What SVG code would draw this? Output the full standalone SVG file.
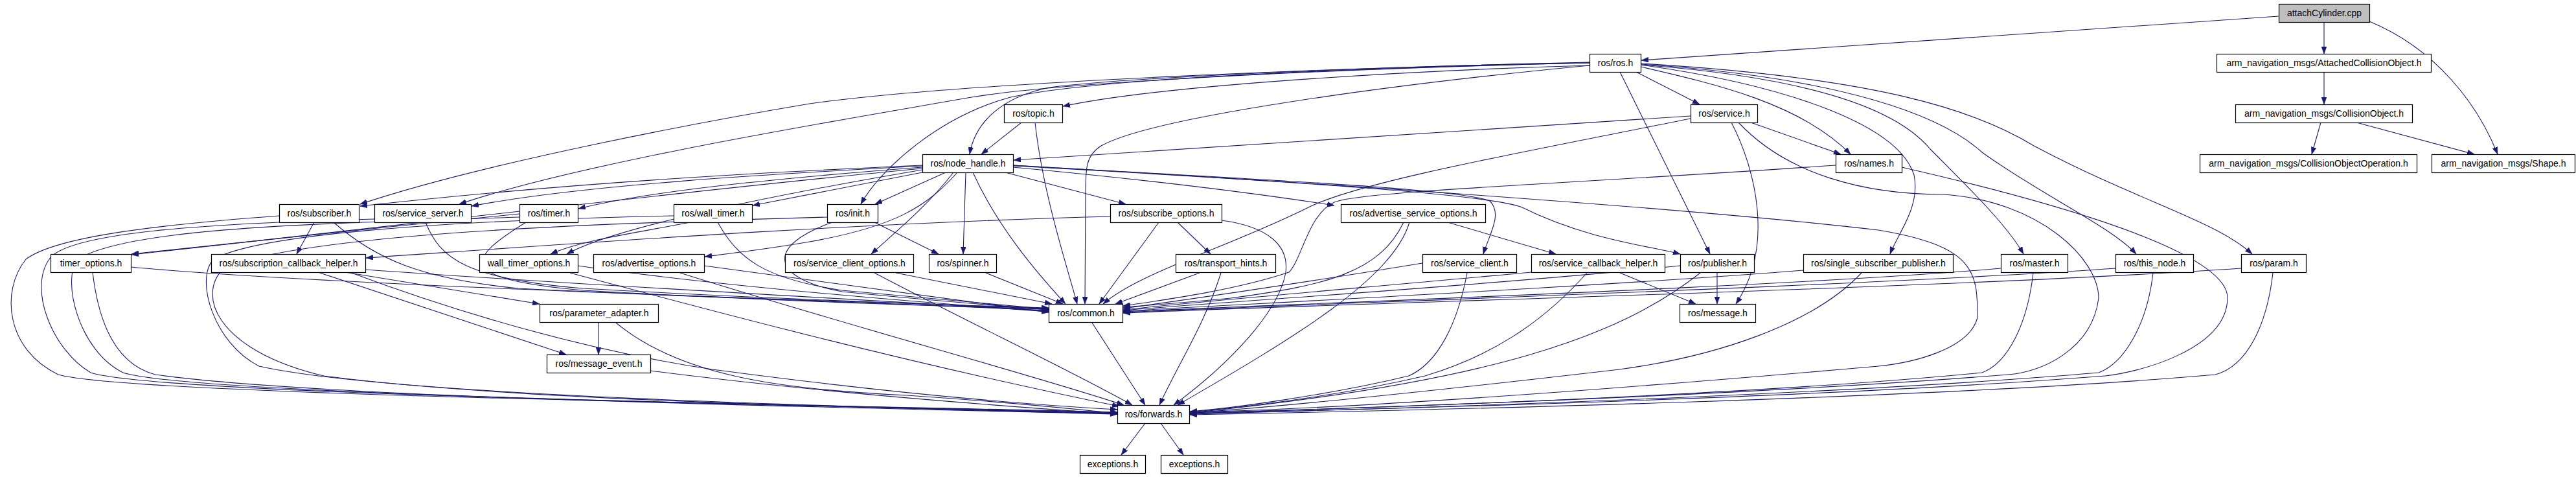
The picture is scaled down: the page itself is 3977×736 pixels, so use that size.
<svg xmlns="http://www.w3.org/2000/svg" width="3977" height="736" viewBox="0 0 3977 736">
<style>
.n rect{fill:#fff;stroke:#000;stroke-width:1.2}
.n text{font-family:"Liberation Sans",Arial,sans-serif;font-size:14px;text-anchor:middle;fill:#000}
.e path{fill:none;stroke:#191970;stroke-width:1.1;marker-end:url(#ah)}
</style>
<defs>
<marker id="ah" viewBox="0 0 11 8" refX="11" refY="4" markerWidth="11" markerHeight="8" markerUnits="userSpaceOnUse" orient="auto">
<path d="M0,0 L11,4 L0,8 z" fill="#191970" stroke="#191970" stroke-width="0.5"/>
</marker>
</defs>
<rect width="3977" height="736" fill="#fff"/>
<g id="edges" class="e">
<path d="M3518,25 L2534,93"/>
<path d="M3588,34 L3588,83"/>
<path d="M3658,33 C3760,75 3825,160 3856,238"/>
<path d="M3588,111 L3588,161"/>
<path d="M3583,189 L3569,238"/>
<path d="M3638,189 L3820,238"/>
<path d="M2454,97 C2200,100 1750,118 1620,135 C1545,150 1505,190 1497,238"/>
<path d="M2454,101 C2200,108 1800,130 1641,164"/>
<path d="M2454,96 C2100,104 1500,125 1250,160 C1100,185 750,250 556,315"/>
<path d="M2454,97 C2100,105 1650,125 1500,150 C1300,185 900,250 709,315"/>
<path d="M2454,97 C2100,105 1700,120 1560,150 C1450,180 1360,260 1329,315"/>
<path d="M2454,101 C2150,130 1780,180 1700,225 C1676,240 1676,260 1676,300 L1675,469"/>
<path d="M2526,111 L2624,161"/>
<path d="M2533,103 C2650,130 2780,160 2857,238"/>
<path d="M2501,111 L2640,392"/>
<path d="M2533,100 C2750,130 2930,190 2955,270 C2965,320 2930,360 2918,392"/>
<path d="M2533,100 C2800,120 2930,170 2980,230 C3050,300 3100,350 3124,392"/>
<path d="M2533,99 C2850,120 3000,180 3060,235 C3150,300 3260,350 3298,392"/>
<path d="M2533,98 C2900,120 3050,170 3140,225 C3300,310 3420,340 3477,392"/>
<path d="M1577,189 L1515,238"/>
<path d="M1598,189 C1610,300 1650,420 1663,469"/>
<path d="M2610,179 L1565,247"/>
<path d="M2703,189 L2842,238"/>
<path d="M2610,183 C2350,235 2100,280 2020,320 C1900,380 1760,420 1703,469"/>
<path d="M2673,189 C2710,260 2740,380 2680,469"/>
<path d="M2684,189 C2760,270 2880,300 3000,300 C3150,310 3240,400 3240,460 C3230,540 3150,575 3100,578 C2700,610 2100,630 1837,637"/>
<path d="M2834,255 C2400,285 2100,295 2060,312 C2020,330 2010,400 1990,420 C1900,450 1780,465 1734,472"/>
<path d="M2936,258 C3250,330 3440,400 3439,460 C3438,540 3300,575 3250,580 C2800,615 2100,632 1837,638"/>
<path d="M1564,255 C2000,280 2600,320 2900,355 C3050,380 3053,420 3053,490 C3040,540 2950,560 2900,565 C2500,600 2100,630 1837,636"/>
<path d="M1564,256 C2000,280 2300,300 2350,320 C2450,370 2550,380 2594,392"/>
<path d="M1424,255 C1200,265 900,280 556,318"/>
<path d="M1424,256 C1200,268 900,285 728,318"/>
<path d="M1564,255 C1900,275 2250,290 2300,310 C2320,330 2300,360 2290,392"/>
<path d="M1424,258 C1200,275 1000,295 893,322"/>
<path d="M1424,266 L1162,317"/>
<path d="M1478,266 C1430,320 1380,350 1250,373 C1180,385 1120,392 1088,396"/>
<path d="M1564,258 C1800,280 1950,300 2060,317"/>
<path d="M1552,266 L1738,315"/>
<path d="M1472,266 C1430,320 1380,360 1345,392"/>
<path d="M1424,260 C1100,290 600,350 203,393"/>
<path d="M1424,262 C1200,300 950,350 875,392"/>
<path d="M1491,266 L1487,392"/>
<path d="M1460,266 L1351,315"/>
<path d="M1502,266 C1540,350 1600,420 1645,469"/>
<path d="M515,343 C580,400 650,430 800,445 C1100,460 1450,470 1619,475"/>
<path d="M431,333 C200,350 80,370 40,400 C0,450 10,540 90,578 C200,610 1300,625 1725,636"/>
<path d="M485,343 L458,392"/>
<path d="M657,343 C680,400 720,430 900,445 C1200,462 1450,470 1619,476"/>
<path d="M578,338 C300,345 120,360 80,395 C40,440 80,540 140,575 C250,610 1300,625 1725,637"/>
<path d="M812,343 C720,400 700,430 900,448 C1200,465 1450,472 1619,477"/>
<path d="M802,335 C500,345 200,350 120,400 C95,430 120,540 190,575 C300,610 1300,626 1725,638"/>
<path d="M802,330 C600,350 350,375 203,392"/>
<path d="M1108,343 C1140,400 1180,430 1300,448 C1450,462 1550,470 1619,477"/>
<path d="M1040,333 C700,340 400,360 330,400 C300,430 330,530 400,565 C600,610 1300,628 1725,638"/>
<path d="M1065,343 C980,360 900,370 850,392"/>
<path d="M1277,335 C900,345 500,360 350,410 C300,450 330,540 500,580 C800,620 1400,630 1725,638"/>
<path d="M1350,343 L1449,392"/>
<path d="M1285,343 C1180,380 1190,430 1300,450 C1450,465 1550,472 1619,478"/>
<path d="M1789,343 L1697,469"/>
<path d="M1818,343 L1869,392"/>
<path d="M1714,334 C1300,345 900,375 565,398"/>
<path d="M1886,340 C1960,350 1990,380 1985,420 C1975,480 1900,560 1812,625"/>
<path d="M2167,343 C2130,420 2050,440 1900,460 C1820,468 1760,472 1734,474"/>
<path d="M2235,343 L2402,392"/>
<path d="M2176,343 C2150,430 2000,520 1818,625"/>
<path d="M2196,406 C2050,430 1850,460 1734,476"/>
<path d="M2265,421 C2250,500 2220,560 2175,580 C2050,610 1900,630 1837,635"/>
<path d="M2364,420 C2150,440 1850,465 1734,478"/>
<path d="M2450,421 C2380,500 2300,550 2200,580 C2050,615 1900,630 1837,636"/>
<path d="M2501,421 L2618,469"/>
<path d="M2625,421 C2500,520 2300,590 1837,637"/>
<path d="M2594,410 C2300,440 1900,465 1734,479"/>
<path d="M2651,421 L2651,469"/>
<path d="M2874,421 C2800,500 2650,550 2500,570 C2200,605 1950,630 1837,637"/>
<path d="M2784,417 C2500,440 2000,465 1734,480"/>
<path d="M3139,421 C3130,500 3100,560 3060,575 C2700,610 2100,630 1837,638"/>
<path d="M3089,414 C2800,440 2100,465 1734,481"/>
<path d="M3324,421 C3315,500 3280,560 3240,575 C2800,612 2100,632 1837,639"/>
<path d="M3266,414 C2900,440 2100,466 1734,482"/>
<path d="M3509,421 C3500,500 3470,565 3420,578 C3000,615 2200,633 1837,640"/>
<path d="M3460,414 C3000,445 2100,467 1734,483"/>
<path d="M202,412 C500,440 1200,460 1619,479"/>
<path d="M143,420 C150,480 170,560 240,578 C500,615 1300,628 1725,639"/>
<path d="M564,416 C900,440 1300,460 1619,480"/>
<path d="M540,420 C700,480 900,540 1100,570 C1400,610 1600,625 1725,632"/>
<path d="M533,420 L833,469"/>
<path d="M491,420 L874,547"/>
<path d="M892,410 C1100,440 1400,465 1619,481"/>
<path d="M880,421 C1100,480 1400,560 1728,627"/>
<path d="M1087,410 C1300,440 1500,465 1619,482"/>
<path d="M1050,421 C1300,500 1600,580 1735,625"/>
<path d="M1383,421 C1480,440 1580,460 1624,469"/>
<path d="M1350,421 C1500,500 1650,570 1748,625"/>
<path d="M1522,421 L1641,469"/>
<path d="M1852,421 L1722,469"/>
<path d="M1885,421 C1860,500 1820,560 1790,625"/>
<path d="M924,498 L924,547"/>
<path d="M951,498 C1050,580 1200,600 1400,610 C1550,620 1650,630 1725,638"/>
<path d="M1004,572 C1300,610 1600,630 1725,639"/>
<path d="M1686,498 L1768,625"/>
<path d="M1768,653 L1731,702"/>
<path d="M1792,653 L1827,702"/>
</g>
<g id="attachCylinder" class="n"><rect x="3518.5" y="6.5" width="140" height="28" style="fill:#bfbfbf"/><text x="3588.5" y="25">attachCylinder.cpp</text></g>
<g id="ros_ros" class="n"><rect x="2454.5" y="83.5" width="79" height="28"/><text x="2494" y="102">ros/ros.h</text></g>
<g id="attached_collision_object" class="n"><rect x="3422.5" y="83.5" width="331" height="28"/><text x="3588" y="102">arm_navigation_msgs/AttachedCollisionObject.h</text></g>
<g id="ros_topic" class="n"><rect x="1550.5" y="161.5" width="90" height="28"/><text x="1595.5" y="180">ros/topic.h</text></g>
<g id="ros_service" class="n"><rect x="2610.5" y="161.5" width="103" height="28"/><text x="2662" y="180">ros/service.h</text></g>
<g id="collision_object" class="n"><rect x="3451.5" y="161.5" width="273" height="28"/><text x="3588" y="180">arm_navigation_msgs/CollisionObject.h</text></g>
<g id="ros_node_handle" class="n"><rect x="1424.5" y="238.5" width="140" height="28"/><text x="1494.5" y="257">ros/node_handle.h</text></g>
<g id="ros_names" class="n"><rect x="2834.5" y="238.5" width="102" height="28"/><text x="2885.5" y="257">ros/names.h</text></g>
<g id="collision_object_operation" class="n"><rect x="3396.5" y="238.5" width="335" height="28"/><text x="3564" y="257">arm_navigation_msgs/CollisionObjectOperation.h</text></g>
<g id="shape" class="n"><rect x="3754.5" y="238.5" width="221" height="28"/><text x="3865" y="257">arm_navigation_msgs/Shape.h</text></g>
<g id="ros_subscriber" class="n"><rect x="431.5" y="315.5" width="123" height="28"/><text x="493" y="334">ros/subscriber.h</text></g>
<g id="ros_service_server" class="n"><rect x="578.5" y="315.5" width="149" height="28"/><text x="653" y="334">ros/service_server.h</text></g>
<g id="ros_timer" class="n"><rect x="802.5" y="315.5" width="90" height="28"/><text x="847.5" y="334">ros/timer.h</text></g>
<g id="ros_wall_timer" class="n"><rect x="1040.5" y="315.5" width="121" height="28"/><text x="1101" y="334">ros/wall_timer.h</text></g>
<g id="ros_init" class="n"><rect x="1277.5" y="315.5" width="78" height="28"/><text x="1316.5" y="334">ros/init.h</text></g>
<g id="ros_subscribe_options" class="n"><rect x="1714.5" y="315.5" width="172" height="28"/><text x="1800.5" y="334">ros/subscribe_options.h</text></g>
<g id="ros_advertise_service_options" class="n"><rect x="2070.5" y="315.5" width="223" height="28"/><text x="2182" y="334">ros/advertise_service_options.h</text></g>
<g id="timer_options" class="n"><rect x="78.5" y="392.5" width="124" height="28"/><text x="140.5" y="411">timer_options.h</text></g>
<g id="ros_subscription_callback_helper" class="n"><rect x="326.5" y="392.5" width="238" height="28"/><text x="445.5" y="411">ros/subscription_callback_helper.h</text></g>
<g id="wall_timer_options" class="n"><rect x="740.5" y="392.5" width="152" height="28"/><text x="816.5" y="411">wall_timer_options.h</text></g>
<g id="ros_advertise_options" class="n"><rect x="916.5" y="392.5" width="171" height="28"/><text x="1002" y="411">ros/advertise_options.h</text></g>
<g id="ros_service_client_options" class="n"><rect x="1212.5" y="392.5" width="198" height="28"/><text x="1311.5" y="411">ros/service_client_options.h</text></g>
<g id="ros_spinner" class="n"><rect x="1434.5" y="392.5" width="104" height="28"/><text x="1486.5" y="411">ros/spinner.h</text></g>
<g id="ros_transport_hints" class="n"><rect x="1815.5" y="392.5" width="154" height="28"/><text x="1892.5" y="411">ros/transport_hints.h</text></g>
<g id="ros_service_client" class="n"><rect x="2196.5" y="392.5" width="145" height="28"/><text x="2269" y="411">ros/service_client.h</text></g>
<g id="ros_service_callback_helper" class="n"><rect x="2364.5" y="392.5" width="206" height="28"/><text x="2467.5" y="411">ros/service_callback_helper.h</text></g>
<g id="ros_publisher" class="n"><rect x="2594.5" y="392.5" width="114" height="28"/><text x="2651.5" y="411">ros/publisher.h</text></g>
<g id="ros_single_subscriber_publisher" class="n"><rect x="2784.5" y="392.5" width="231" height="28"/><text x="2900" y="411">ros/single_subscriber_publisher.h</text></g>
<g id="ros_master" class="n"><rect x="3089.5" y="392.5" width="103" height="28"/><text x="3141" y="411">ros/master.h</text></g>
<g id="ros_this_node" class="n"><rect x="3266.5" y="392.5" width="120" height="28"/><text x="3326.5" y="411">ros/this_node.h</text></g>
<g id="ros_param" class="n"><rect x="3460.5" y="392.5" width="100" height="28"/><text x="3510.5" y="411">ros/param.h</text></g>
<g id="ros_parameter_adapter" class="n"><rect x="833.5" y="469.5" width="183" height="28"/><text x="925" y="488">ros/parameter_adapter.h</text></g>
<g id="ros_common" class="n"><rect x="1619.5" y="469.5" width="114" height="28"/><text x="1676.5" y="488">ros/common.h</text></g>
<g id="ros_message" class="n"><rect x="2593.5" y="469.5" width="117" height="28"/><text x="2652" y="488">ros/message.h</text></g>
<g id="ros_message_event" class="n"><rect x="844.5" y="547.5" width="160" height="28"/><text x="924.5" y="566">ros/message_event.h</text></g>
<g id="ros_forwards" class="n"><rect x="1725.5" y="625.5" width="111" height="28"/><text x="1781" y="644">ros/forwards.h</text></g>
<g id="exceptions_1" class="n"><rect x="1667.5" y="702.5" width="101" height="28"/><text x="1718" y="721">exceptions.h</text></g>
<g id="exceptions_2" class="n"><rect x="1792.5" y="702.5" width="103" height="28"/><text x="1844" y="721">exceptions.h</text></g>
</svg>
